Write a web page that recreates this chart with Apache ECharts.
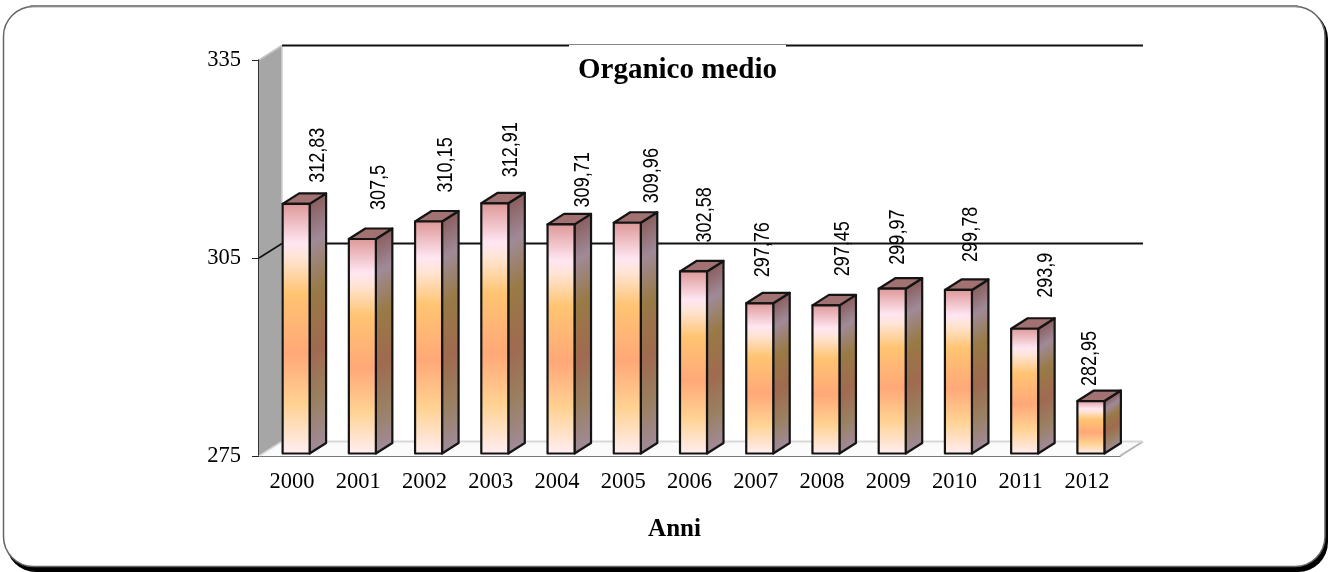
<!DOCTYPE html>
<html>
<head>
<meta charset="utf-8">
<title>Organico medio</title>
<script src="https://cdn.jsdelivr.net/npm/echarts@6/dist/echarts.min.js"></script>
<style>
	html, body { margin: 0; padding: 0; background: #fff; }
	#chart { width: 1328px; height: 572px; }
</style>
</head>
<body>
<div id="chart"></div>
<script>
var anni = ['2000', '2001', '2002', '2003', '2004', '2005', '2006', '2007', '2008', '2009', '2010', '2011', '2012'];
var organico = [312.83, 307.5, 310.15, 312.91, 309.71, 309.96, 302.58, 297.76, 297.45, 299.97, 299.78, 293.9, 282.95];
var yTicks = [275, 305, 335];

// spostamento manuale delle etichette rispetto alla barra
var labelDx = [22, 17, 17, 16.5, 22, 25, 11, 3, 17, 5.6, 13, 21, -1];
var labelDy = [-21, -29, -29, -26, -17, -19.5, -29, -26, -29, -24, -28, -31, -15];

// profondita' della scena e delle barre
var wallDx = 23, wallDy = 14.5;
var barW = 27, barDx = 16.5, barDy = 10.5, barShift = 4, baseLift = 2.5;

var frontFill = [
	{ offset: 0, color: '#dd9696' },
	{ offset: 0.16, color: '#ffe6f2' },
	{ offset: 0.22, color: '#ffe4d4' },
	{ offset: 0.36, color: '#ffc472' },
	{ offset: 0.6, color: '#ffa878' },
	{ offset: 0.8, color: '#ffd292' },
	{ offset: 1, color: '#ffeef4' }
];
var sideFill = [
	{ offset: 0, color: '#8a5f5f' },
	{ offset: 0.16, color: '#a08a98' },
	{ offset: 0.36, color: '#997a45' },
	{ offset: 0.6, color: '#a06a50' },
	{ offset: 0.8, color: '#9a8060' },
	{ offset: 1, color: '#a08a98' }
];

// pareti e pavimento
function renderWalls(params, api) {
	var cs = params.coordSys;
	var left = cs.x, right = cs.x + cs.width;
	var children = [];
	var y0 = api.coord([0, yTicks[0]])[1];
	var yTop = api.coord([0, yTicks[yTicks.length - 1]])[1];
	children.push({
		type: 'polygon',
		shape: { points: [[left, y0], [left + wallDx, y0 - wallDy], [right + wallDx, y0 - wallDy], [right, y0]] },
		style: { fill: '#fbfbfb' }
	});
	children.push({
		type: 'polygon',
		shape: { points: [[left, yTop], [left + wallDx, yTop - wallDy], [left + wallDx, y0 - wallDy], [left, y0]] },
		style: { fill: '#a6a6a6' }
	});
	children.push({
		type: 'line',
		shape: { x1: right, y1: y0, x2: right + wallDx, y2: y0 - wallDy },
		style: { stroke: '#b4b4b4', lineWidth: 2 }
	});
	children.push({
		type: 'line',
		shape: { x1: left + wallDx, y1: yTop - wallDy, x2: left + wallDx, y2: y0 - wallDy },
		style: { stroke: '#d0d0d0', lineWidth: 1.5 }
	});
	for (var i = 0; i < yTicks.length; i++) {
		var y = api.coord([0, yTicks[i]])[1];
		var color = '#111';
		if (i == 0) color = '#d8d8d8';
		var diagColor = color;
		if (i == yTicks.length - 1) diagColor = '#c4c4c4';
		children.push({
			type: 'line',
			shape: { x1: left + wallDx, y1: y - wallDy, x2: right + wallDx, y2: y - wallDy },
			style: { stroke: color, lineWidth: 2 }
		});
		children.push({
			type: 'line',
			shape: { x1: left, y1: y, x2: left + wallDx, y2: y - wallDy },
			style: { stroke: diagColor, lineWidth: 1.5 }
		});
	}
	return { type: 'group', children: children };
}

// barra 3d: fronte, lato, cima
function renderBar(params, api) {
	var p = api.coord([api.value(0), api.value(1)]);
	var x1 = p[0] + barShift - barW / 2;
	var x2 = x1 + barW;
	var top = p[1] - baseLift;
	var bottom = api.coord([api.value(0), yTicks[0]])[1] - baseLift;
	var lineStyle = { stroke: '#141414', lineWidth: 2.2, lineJoin: 'round' };
	// sul lato le bande seguono la pendenza della cima
	var h = bottom - top;
	var k = h * barDx / (barDx * barDx + barDy * barDy);
	var sideGrad = new echarts.graphic.LinearGradient(x2, top, x2 + barDy * k, top + barDx * k, sideFill, true);
	var frontGrad = new echarts.graphic.LinearGradient(0, 0, 0, 1, frontFill);
	return {
		type: 'group',
		children: [{
			type: 'polygon',
			shape: { points: [[x2, top], [x2 + barDx, top - barDy], [x2 + barDx, bottom - barDy], [x2, bottom]] },
			style: Object.assign({ fill: sideGrad }, lineStyle)
		}, {
			type: 'polygon',
			shape: { points: [[x1, top], [x1 + barDx, top - barDy], [x2 + barDx, top - barDy], [x2, top]] },
			style: Object.assign({ fill: '#a27272' }, lineStyle)
		}, {
			type: 'rect',
			shape: { x: x1, y: top, width: barW, height: bottom - top },
			style: Object.assign({ fill: frontGrad }, lineStyle)
		}]
	};
}

// etichette verticali, un po' strette come nell'originale
function renderLabel(params, api) {
	var i = params.dataIndex;
	var p = api.coord([api.value(0), api.value(1)]);
	return {
		type: 'text',
		x: p[0] + barShift + labelDx[i],
		y: p[1] - baseLift + labelDy[i],
		rotation: Math.PI / 2,
		scaleX: 0.82,
		style: {
			text: String(organico[i]).replace('.', ','),
			fill: '#000',
			font: '22px "Liberation Sans"',
			textAlign: 'left',
			textVerticalAlign: 'middle'
		}
	};
}

var barData = [];
for (var i = 0; i < anni.length; i++) {
	barData.push([i, organico[i]]);
}

var myChart = echarts.init(document.getElementById('chart'));

var option = {
	animation: false,
	backgroundColor: '#fff',
	graphic: [{
		type: 'rect',
		z: -2,
		shape: { x: 6, y: 9, width: 1322, height: 563, r: 30 },
		style: { fill: '#000' }
	}, {
		type: 'rect',
		z: -1,
		shape: { x: 3.5, y: 6.5, width: 1321.5, height: 560, r: 30 },
		style: { fill: '#fff', stroke: '#666', lineWidth: 1.5 }
	}, {
		type: 'line',
		z: -1,
		shape: { x1: 30, y1: 6, x2: 1298, y2: 6 },
		style: { stroke: '#888', lineWidth: 2 }
	}],
	title: {
		text: 'Organico medio',
		left: 569,
		top: 45,
		padding: [11, 9, 6, 9],
		backgroundColor: '#fff',
		textStyle: { fontFamily: 'Liberation Serif', fontWeight: 'bold', fontSize: 29, color: '#000' }
	},
	grid: { left: 259, top: 60, width: 861, height: 396 },
	xAxis: {
		type: 'category',
		data: anni,
		name: 'Anni',
		nameLocation: 'middle',
		nameGap: 61,
		nameTextStyle: { fontFamily: 'Liberation Serif', fontWeight: 'bold', fontSize: 25, color: '#000', padding: [0, 30, 0, 0] },
		axisLine: { lineStyle: { color: '#777', width: 2 } },
		axisTick: { alignWithLabel: false, length: 6, lineStyle: { color: '#222', width: 1 } },
		axisLabel: { fontFamily: 'Liberation Serif', fontSize: 22.5, color: '#000', margin: 15 }
	},
	yAxis: {
		type: 'value',
		min: 275,
		max: 335,
		interval: 30,
		axisLine: { show: true, lineStyle: { color: '#333', width: 2 } },
		axisTick: { show: true, length: 7, lineStyle: { color: '#222', width: 1 } },
		axisLabel: { fontFamily: 'Liberation Serif', fontSize: 22.5, color: '#000', margin: 18, padding: [3, 0, 0, 0] },
		splitLine: { show: false }
	},
	series: [{
		type: 'custom',
		name: 'pareti',
		silent: true,
		z: 1,
		renderItem: renderWalls,
		data: [[0, yTicks[0]]]
	}, {
		type: 'custom',
		name: 'Organico medio',
		z: 3,
		renderItem: renderBar,
		encode: { x: 0, y: 1 },
		data: barData
	}, {
		type: 'custom',
		name: 'etichette',
		silent: true,
		z: 4,
		renderItem: renderLabel,
		encode: { x: 0, y: 1 },
		data: barData
	}]
};
myChart.setOption(option);
</script>
</body>
</html>
